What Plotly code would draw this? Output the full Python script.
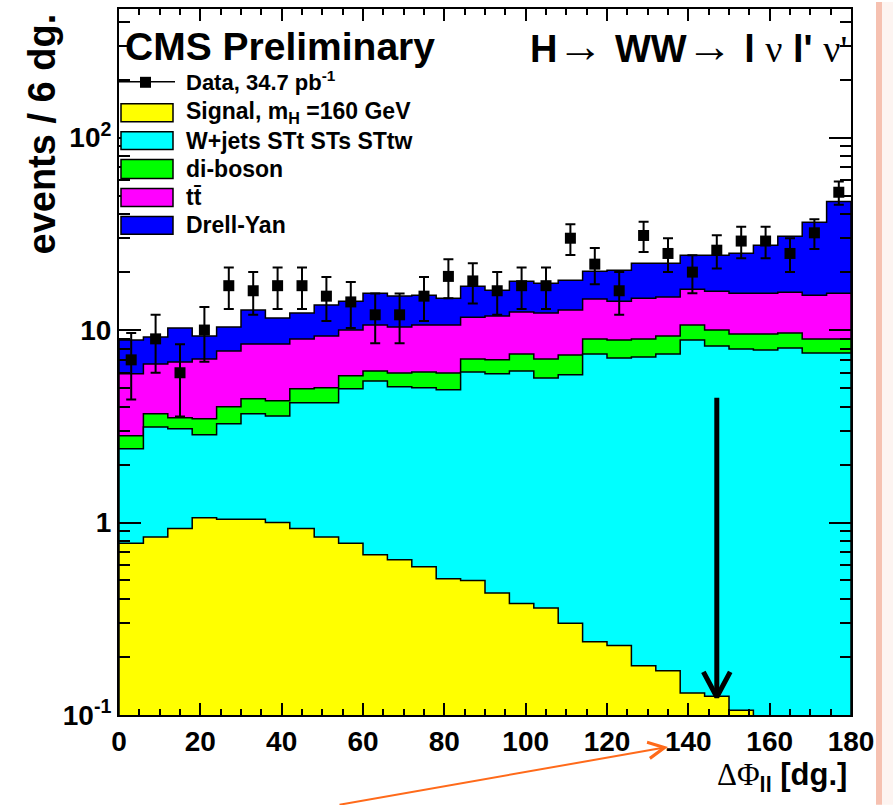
import numpy as np
import plotly.graph_objects as go

# ---------------- data ----------------
bin_width_deg = 6
n_bins = 30
data_counts = [7, 9, 6, 10, 17, 16, 17, 17, 15, 14, 12, 12, 15, 19, 18,
               16, 17, 17, 30, 22, 16, 31, 25, 20, 26, 29, 29, 25, 32, 52]
signal = [0.78, 0.84, 0.93, 1.06, 1.04, 1.04, 1.00, 0.93, 0.84, 0.78,
          0.68, 0.64, 0.59, 0.51, 0.50, 0.43, 0.38, 0.36, 0.30, 0.24,
          0.23, 0.18, 0.17, 0.13, 0.125, 0.106, 0.0, 0.0, 0.0, 0.0]
wjets = [1.64, 2.30, 2.14, 1.80, 2.22, 2.63, 2.58, 3.26, 3.35, 4.17,
         4.76, 4.43, 4.42, 4.38, 5.56, 5.49, 5.75, 5.28, 5.55, 7.27,
         6.93, 7.06, 7.34, 8.74, 8.13, 7.86, 7.87, 8.07, 7.60, 7.60]
diboson = [0.40, 0.53, 0.43, 0.60, 0.73, 0.72, 0.71, 0.76, 0.82, 0.83,
           0.69, 0.92, 1.05, 1.10, 1.02, 1.08, 1.38, 1.44, 1.57, 1.47,
           1.71, 1.74, 1.80, 1.75, 1.74, 1.56, 1.66, 1.57, 1.38, 1.38]
ttbar = [3.10, 3.00, 3.33, 3.62, 3.79, 4.07, 4.17, 4.03, 4.30, 4.22,
         4.49, 4.38, 4.56, 4.63, 4.59, 4.82, 4.89, 5.17, 5.28, 5.50,
         5.26, 5.67, 5.52, 5.69, 5.92, 6.02, 6.02, 6.10, 6.19, 6.57]
drellyan = [2.95, 2.53, 3.41, 2.23, 2.59, 4.24, 3.08, 3.27, 4.17, 4.13,
            4.93, 4.64, 4.55, 4.03, 5.23, 4.29, 5.54, 5.28, 5.46, 5.74,
            6.33, 7.59, 7.41, 8.16, 8.55, 9.51, 12.01, 14.93, 21.11, 31.05]

x_tick_vals = [0, 20, 40, 60, 80, 100, 120, 140, 160, 180]
y_tick_vals = [0.1, 1, 10, 100]
y_tick_text = ["10<sup>-1</sup>", "1", "10", "10<sup>2</sup>"]

cut_value = 147          # position of the black cut arrow (deg)
cut_arrow_top = 4.45
cut_arrow_tip = 0.124

# ---------------- styling ----------------
FONT = "Liberation Sans"
SERIF = "Liberation Serif"
colors = {"signal": "#ffff00", "wjets": "#00ffff", "diboson": "#00ff00",
          "ttbar": "#ff00ff", "dy": "#0000ff"}

W, H = 893, 805
L_PX, R_PX, T_PX, B_PX = 119, 851, 7, 715
y_lo, y_hi = -1.0, 2.668
FLOOR = 1e-3


def px_to_paper(px, py):
    return (px - L_PX) / (R_PX - L_PX), (B_PX - py) / (B_PX - T_PX)


edges = np.arange(n_bins + 1) * bin_width_deg
centers = edges[:-1] + bin_width_deg / 2

layers = [("signal", signal), ("wjets", wjets), ("diboson", diboson),
          ("ttbar", ttbar), ("dy", drellyan)]
cum = np.cumsum(np.array([v for _, v in layers]), axis=0)


def step_path(tops):
    xs, ys = [edges[0]], [FLOOR]
    for i, t in enumerate(tops):
        v = t if t > 0.05 else FLOOR
        xs += [edges[i], edges[i + 1]]
        ys += [v, v]
    xs.append(edges[-1])
    ys.append(FLOOR)
    return xs, ys


fig = go.Figure()
for k in range(len(layers) - 1, -1, -1):
    name = layers[k][0]
    xs, ys = step_path(cum[k])
    fig.add_trace(go.Scatter(x=xs, y=ys, mode="lines", fill="toself",
                             fillcolor=colors[name],
                             line=dict(color="black", width=1.5),
                             hoverinfo="skip", showlegend=False))

counts = np.array(data_counts, dtype=float)
fig.add_trace(go.Scatter(
    x=centers, y=counts, mode="markers",
    marker=dict(symbol="square", size=11, color="black"),
    error_y=dict(type="data", array=np.sqrt(counts), color="black",
                 thickness=2, width=5),
    showlegend=False))

# black cut arrow
fig.add_trace(go.Scatter(x=[cut_value, cut_value], y=[cut_arrow_top, cut_arrow_tip],
                         mode="lines", line=dict(color="black", width=5),
                         showlegend=False, hoverinfo="skip"))
fig.add_trace(go.Scatter(x=[cut_value - 3.3, cut_value, cut_value + 3.3],
                         y=[cut_arrow_tip * 1.35, cut_arrow_tip, cut_arrow_tip * 1.35],
                         mode="lines", line=dict(color="black", width=5),
                         showlegend=False, hoverinfo="skip"))

# invisible trace on the mirrored (top / right) axes so their ticks get drawn
fig.add_trace(go.Scatter(x=[edges[0]], y=[FLOOR], xaxis="x2", yaxis="y2",
                         mode="markers", marker=dict(opacity=0),
                         showlegend=False, hoverinfo="skip"))

shapes = []
annotations = []

# legend
leg_entries = [("signal", "Signal, m<sub>H</sub> =160 GeV", 102, 120),
               ("wjets", "W+jets STt STs STtw", 130, 148),
               ("diboson", "di-boson", 158, 177),
               ("ttbar", "tt\u0304", 187, 205),
               ("dy", "Drell-Yan", 215, 233)]
for key, label, y0p, y1p in leg_entries:
    x0, yy0 = px_to_paper(121, y1p)
    x1, yy1 = px_to_paper(173, y0p)
    shapes.append(dict(type="rect", xref="paper", yref="paper", x0=x0, x1=x1,
                       y0=yy0, y1=yy1, fillcolor=colors[key],
                       line=dict(color="black", width=1.5)))
    tx, ty = px_to_paper(184, (y0p + y1p) / 2)
    annotations.append(dict(xref="paper", yref="paper", x=tx, y=ty,
                            xanchor="left", yanchor="middle", showarrow=False,
                            text=label,
                            font=dict(family=FONT, size=23, color="black", weight=700)))
# data legend entry
lx0, ly = px_to_paper(119, 80)
lx1, _ = px_to_paper(175, 80)
shapes.append(dict(type="line", xref="paper", yref="paper", x0=lx0, x1=lx1, y0=ly, y1=ly,
                   line=dict(color="black", width=1.5)))
mx0, my0 = px_to_paper(140, 86)
mx1, my1 = px_to_paper(151, 75)
shapes.append(dict(type="rect", xref="paper", yref="paper", x0=mx0, x1=mx1, y0=my0, y1=my1,
                   fillcolor="black", line=dict(width=0)))
tx, ty = px_to_paper(184, 79)
annotations.append(dict(xref="paper", yref="paper", x=tx, y=ty, xanchor="left",
                        yanchor="middle", showarrow=False,
                        text="Data, 34.7 pb<sup>-1</sup>",
                        font=dict(family=FONT, size=22, color="black", weight=700)))

# CMS Preliminary
tx, ty = px_to_paper(123, 45)
annotations.append(dict(xref="paper", yref="paper", x=tx, y=ty, xanchor="left",
                        yanchor="middle", showarrow=False, text="CMS Preliminary",
                        font=dict(family=FONT, size=39, color="black", weight=700)))
# process title
sym = "<span style='font-family:%s;font-weight:normal'>%s</span>"
arr = "<span style='font-family:%s;font-weight:normal;font-size:46px'>%s</span>"
title_txt = ("H" + arr % (SERIF, "\u2192 ") + "WW" + arr % (SERIF, "\u2192 ") +
             "l " + sym % (SERIF, "\u03bd") + " l' " + sym % (SERIF, "\u03bd'"))
tx, ty = px_to_paper(849, 45)
annotations.append(dict(xref="paper", yref="paper", x=tx, y=ty, xanchor="right",
                        yanchor="middle", showarrow=False, text=title_txt,
                        font=dict(family=FONT, size=38, color="black", weight=700)))
# y title
tx, ty = px_to_paper(42, 10)
annotations.append(dict(xref="paper", yref="paper", x=tx, y=ty, xanchor="center",
                        yanchor="top", showarrow=False, textangle=-90,
                        text="events / 6 dg.",
                        font=dict(family=FONT, size=38, color="black", weight=700)))
# x title
tx, ty = px_to_paper(849, 777)
annotations.append(dict(xref="paper", yref="paper", x=tx, y=ty, xanchor="right",
                        yanchor="middle", showarrow=False,
                        text=sym % (SERIF, "\u0394\u03a6") + "<sub>ll</sub> [dg.]",
                        font=dict(family=FONT, size=31, color="black", weight=700)))
# orange arrow
hx, hy = px_to_paper(668, 747)
annotations.append(dict(xref="paper", yref="paper", x=hx, y=hy, ax=-330, ay=63,
                        showarrow=True, arrowhead=5, arrowsize=1.6, arrowwidth=2,
                        arrowcolor="#ff6a1a", text=""))

# right slide border stripe
sx0, sy0 = px_to_paper(876, 805)
sx1, sy1 = px_to_paper(882, 0)
shapes.append(dict(type="rect", xref="paper", yref="paper", x0=sx0, x1=sx1, y0=sy0, y1=sy1,
                   fillcolor="#f6c1b1", line=dict(width=0), layer="below"))
sx2, _ = px_to_paper(893, 0)
shapes.append(dict(type="rect", xref="paper", yref="paper", x0=sx1, x1=sx2, y0=sy0, y1=sy1,
                   fillcolor="#fdf4f1", line=dict(width=0), layer="below"))

minor_y = [m * 10.0 ** e for e in (-1, 0, 1, 2) for m in range(2, 10)
           if m * 10.0 ** e < 10 ** y_hi]

tickfont = dict(family=FONT, size=28, color="black", weight=700)
xminor = dict(dtick=5, ticks="inside", ticklen=6, tickwidth=1.5,
              tickcolor="black", showgrid=False)
yminor = dict(tickvals=minor_y, ticks="inside", ticklen=11, tickwidth=1.5,
              tickcolor="black", showgrid=False)
fig.update_layout(
    width=W, height=H, autosize=False,
    margin=dict(l=L_PX, r=W - R_PX, t=T_PX, b=H - B_PX),
    paper_bgcolor="white", plot_bgcolor="white",
    shapes=shapes, annotations=annotations, showlegend=False,
    xaxis=dict(range=[0, 180], tickvals=x_tick_vals, ticks="inside", ticklen=12,
               tickwidth=1.5, tickcolor="black", showline=True, linewidth=2,
               linecolor="black", mirror=True, showgrid=False, zeroline=False,
               tickfont=tickfont, minor=xminor),
    yaxis=dict(type="log", range=[y_lo, y_hi], tickvals=y_tick_vals, ticktext=y_tick_text,
               ticks="inside", ticklen=22, tickwidth=1.5, tickcolor="black",
               showline=True, linewidth=2, linecolor="black", mirror=True,
               showgrid=False, zeroline=False, tickfont=tickfont, minor=yminor),
    xaxis2=dict(range=[0, 180], overlaying="x", side="top", anchor="y2",
                tickvals=x_tick_vals, ticks="inside", ticklen=12, tickwidth=1.5,
                tickcolor="black", showticklabels=False, showgrid=False,
                zeroline=False, showline=False, minor=xminor),
    yaxis2=dict(type="log", range=[y_lo, y_hi], overlaying="y", side="right",
                anchor="x2", tickvals=y_tick_vals, ticks="inside", ticklen=22,
                tickwidth=1.5, tickcolor="black", showticklabels=False,
                showgrid=False, zeroline=False, showline=False, minor=yminor),
)

fig.write_html("out.html")
